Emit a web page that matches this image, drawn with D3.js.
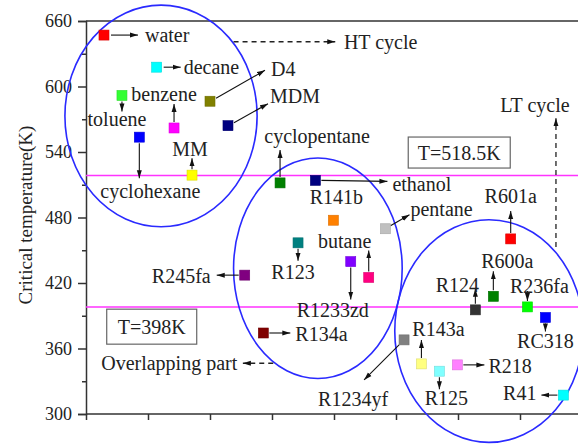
<!DOCTYPE html>
<html><head><meta charset="utf-8">
<script src="https://cdn.jsdelivr.net/npm/d3@7"></script>
<style>
html,body{margin:0;padding:0;background:#fff;}
svg text{font-family:"Liberation Serif","DejaVu Serif",serif !important;}
</style></head><body>
<svg id="chart" width="578" height="445"></svg>
<script>
// Working fluids, their slot along the horizontal axis and critical temperature (K)
const fluids = ["water","decane","toluene","benzene","D4","MDM","cyclohexane","MM",
  "cyclopentane","ethanol","R141b","pentane","R123","R245fa","R1233zd","butane","R134a",
  "R601a","R600a","R124","R236fa","RC318","R1234yf","R143a","R125","R218","R41"];
const slot = [0.29,1.14,0.58,1.42,2.0,2.29,0.86,1.71,
  3.13,3.70,3.99,4.83,3.42,2.56,4.27,4.56,2.86,
  6.85,6.57,6.28,7.12,7.41,5.13,5.41,5.70,5.99,7.70];
const tc = [647.1,617.7,591.8,562.0,586.5,564.1,553.6,518.8,
  511.7,514.0,477.5,469.7,456.8,427.2,439.6,425.1,374.2,
  460.4,407.8,395.4,398.1,388.4,367.9,345.9,339.2,345.0,317.3];
const markerColors = ["#ff0000","#00ffff","#33ff33","#ff00ff","#808000","#000080","#0000ff","#ffff00",
  "#008000","#000080","#ff8000","#c0c0c0","#008080","#800080","#8000ff","#ff0080","#800000",
  "#ff0000","#008000","#333333","#00ff00","#0000ff","#808080","#ffff80","#80ffff","#ff80ff","#00ffff"];
const yTicks = [300,360,420,480,540,600,660];
const yMinorTicks = [330,390,450,510,570,630];
const xTicks = [0,1,2,3,4,5,6,7];
const thresholds = [518.5, 398];

const W = 578, H = 445;
const FONT = "Liberation Serif";
const svg = d3.select("#chart").attr("font-family", FONT);
const x = d3.scaleLinear().domain([0, 8]).range([86, 582]);
const y = d3.scaleLinear().domain([300, 660]).range([414, 21]);

// arrow head
svg.append("defs").append("marker")
  .attr("id","ah").attr("markerUnits","userSpaceOnUse")
  .attr("markerWidth",9).attr("markerHeight",6).attr("refX",8).attr("refY",3)
  .attr("orient","auto")
  .append("path").attr("d","M0,0.5 L8,3 L0,5.5 Z").attr("fill","#111");

// axes
const axisColor = "#333";
const yAxis = svg.append("g").attr("transform","translate(86,0)")
  .call(d3.axisLeft(y).tickValues(yTicks).tickSize(8).tickPadding(6).tickFormat(d3.format("d")));
svg.append("g").attr("transform","translate(86,0)")
  .call(d3.axisLeft(y).tickValues(yMinorTicks).tickSize(4).tickFormat(""))
  .select(".domain").remove();
const xAxis = svg.append("g").attr("transform","translate(0,414)")
  .call(d3.axisBottom(x).tickValues(xTicks).tickSize(6).tickFormat(""));
xAxis.select(".domain").attr("d","M86,0H578");
svg.selectAll(".tick line, .domain").attr("stroke",axisColor).attr("stroke-width",1.5);
svg.selectAll("g").attr("font-family", FONT);
yAxis.selectAll("text").attr("font-size",18).attr("fill","#222");
// top frame line
svg.append("line").attr("x1",86).attr("x2",W).attr("y1",y(660)).attr("y2",y(660))
  .attr("stroke",axisColor).attr("stroke-width",1.5);

svg.append("text").attr("transform","translate(25,215) rotate(-90)")
  .attr("text-anchor","middle").attr("dy","0.35em").attr("font-size",19).attr("fill","#222")
  .text("Critical temperature(K)");

// temperature thresholds
svg.selectAll(".thr").data(thresholds).enter().append("line")
  .attr("x1",86).attr("x2",W).attr("y1",d=>y(d)).attr("y2",d=>y(d))
  .attr("stroke","#ff33ff").attr("stroke-width",1.6);

// fluid groupings
const clusters = [
  {cx:1.21, cy:573, rx:1.55, ry:101.5},
  {cx:3.74, cy:433.5, rx:1.36, ry:101},
  {cx:6.5, cy:376, rx:1.52, ry:102}
];
svg.selectAll(".cl").data(clusters).enter().append("ellipse")
  .attr("cx",d=>x(d.cx)).attr("cy",d=>y(d.cy))
  .attr("rx",d=>x(d.rx)-x(0)).attr("ry",d=>y(660-d.ry)-y(660))
  .attr("fill","none").attr("stroke","#2a2aff").attr("stroke-width",1.6);

// boxed threshold captions
const boxes = [
  {text:"T=518.5K", cx:6.02, cy:539.5, w:102, h:31},
  {text:"T=398K", cx:1.06, cy:380, w:90, h:35}
];
boxes.forEach(b=>{
  const g = svg.append("g").attr("transform",`translate(${x(b.cx)},${y(b.cy)})`);
  g.append("rect").attr("x",-b.w/2).attr("y",-b.h/2).attr("width",b.w).attr("height",b.h)
    .attr("fill","#fff").attr("stroke","#666").attr("stroke-width",1.2);
  g.append("text").attr("text-anchor","middle").attr("dy","0.35em")
    .attr("font-size",20).attr("fill","#222").text(b.text);
});

// cycle hints (dashed arrows)
const hints = [
  {x1:2.38,y1:641,x2:4.02,y2:641, text:"HT cycle", tx:4.16, ty:641, anchor:"start"},
  {x1:7.58,y1:453,x2:7.58,y2:571, text:"LT cycle", tx:7.24, ty:583, anchor:"middle"},
  {x1:3.02,y1:346.5,x2:2.53,y2:346.5, text:"Overlapping part", tx:2.44, ty:346.5, anchor:"end"}
];
hints.forEach(h=>{
  svg.append("line").attr("x1",x(h.x1)).attr("y1",y(h.y1)).attr("x2",x(h.x2)).attr("y2",y(h.y2))
    .attr("stroke","#222").attr("stroke-width",1.3).attr("stroke-dasharray","5,4")
    .attr("marker-end","url(#ah)");
  svg.append("text").attr("x",x(h.tx)).attr("y",y(h.ty)).attr("dy","0.35em")
    .attr("text-anchor",h.anchor).attr("font-size",20).attr("fill","#222").text(h.text);
});

// callout layout: arrow [x1,y1,x2,y2] and label offset relative to the marker, in px
const callouts = {
  water:{a:[7,0,34,0], l:[41,0], t:"start"},
  decane:{a:[7,0,24,0], l:[27,0], t:"start"},
  toluene:{a:[0,6,0,16], l:[-5,24], t:"middle"},
  benzene:{a:[0,-6,0,-24], l:[-10,-34], t:"middle"},
  D4:{a:[6,-3,55,-31], l:[61,-32], t:"start"},
  MDM:{a:[6,-3,40,-22], l:[42,-30], t:"start"},
  cyclohexane:{a:[0,6,0,41], l:[11,54], t:"middle"},
  MM:{a:[0,-6,0,-17], l:[-2,-26], t:"middle"},
  cyclopentane:{a:[0,-6,0,-33], l:[37,-47], t:"middle"},
  ethanol:{a:[6,0,72,1], l:[77,4], t:"start"},
  R141b:{a:null, l:[3,-23], t:"middle"},
  pentane:{a:[5,-3,24,-14], l:[25,-20], t:"start"},
  R123:{a:[0,6,0,18], l:[-5,29], t:"middle"},
  R245fa:{a:[-6,0,-28,0], l:[-34,1], t:"end"},
  R1233zd:{a:[0,6,0,38], l:[-18,48], t:"middle"},
  butane:{a:[0,-6,0,-27], l:[-24,-36], t:"middle"},
  R134a:{a:[6,0,27,0], l:[32,1], t:"start"},
  R601a:{a:[0,-6,0,-28], l:[0,-43], t:"middle"},
  R600a:{a:[0,-6,0,-25], l:[14,-35], t:"middle"},
  R124:{a:[0,-6,0,-21], l:[-18,-25], t:"middle"},
  R236fa:{a:[0,-16,0,-6], l:[12,-21], t:"middle"},
  RC318:{a:[0,6,0,14], l:[0,24], t:"middle"},
  R1234yf:{a:[-5,5,-40,40], l:[-51,59], t:"middle"},
  R143a:{a:[0,-6,0,-24], l:[17,-35], t:"middle"},
  R125:{a:[0,6,0,18], l:[7,27], t:"middle"},
  R218:{a:[6,0,27,0], l:[31,1], t:"start"},
  R41:{a:[-6,0,-22,0], l:[-27,-2], t:"end"}
};

const pts = fluids.map((f,i)=>({name:f, sx:slot[i], t:tc[i], color:markerColors[i]}));
const g = svg.append("g");
pts.forEach(p=>{
  const mx = x(p.sx), my = y(p.t), c = callouts[p.name];
  if (c.a) {
    g.append("line").attr("x1",mx+c.a[0]).attr("y1",my+c.a[1])
      .attr("x2",mx+c.a[2]).attr("y2",my+c.a[3])
      .attr("stroke","#111").attr("stroke-width",1.1).attr("marker-end","url(#ah)");
  }
  g.append("text").attr("x",mx+c.l[0]).attr("y",my+c.l[1]).attr("dy","0.35em")
    .attr("text-anchor",c.t).attr("font-size",20).attr("fill","#222").text(p.name);
});
g.selectAll("rect.pt").data(pts).enter().append("rect").attr("class","pt")
  .attr("x",d=>x(d.sx)-5).attr("y",d=>y(d.t)-5).attr("width",10).attr("height",10)
  .attr("fill",d=>d.color).attr("stroke",d=>d3.color(d.color).darker(0.4)).attr("stroke-width",0.6);
</script>
</body></html>
